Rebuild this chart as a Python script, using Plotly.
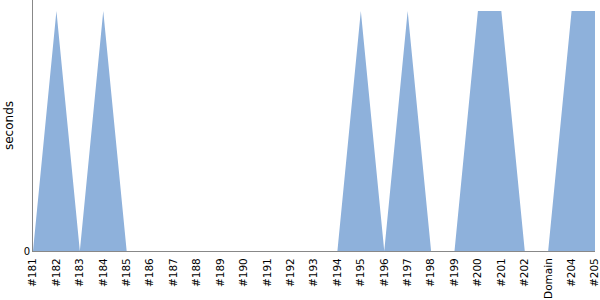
import plotly.graph_objects as go

categories = ["#181", "#182", "#183", "#184", "#185", "#186", "#187", "#188", "#189",
              "#190", "#191", "#192", "#193", "#194", "#195", "#196", "#197", "#198",
              "#199", "#200", "#201", "#202", "Domain", "#204", "#205"]
seconds = [0, 1, 0, 1, 0, 0, 0, 0, 0, 0, 0, 0, 0, 0, 1, 0, 1, 0, 0, 1, 1, 0, 0, 1, 1]

FONT = "DejaVu Sans"

fig = go.Figure()
fig.add_trace(go.Scatter(
    x=list(range(len(categories))), y=seconds, mode="lines",
    line=dict(width=0, color="#8eb1db"),
    fill="tozeroy", fillcolor="#8eb1db", hoverinfo="skip",
))

fig.update_layout(
    width=600, height=300,
    margin=dict(l=33, r=5, t=0, b=49),
    paper_bgcolor="white", plot_bgcolor="white",
    showlegend=False,
    font=dict(family=FONT, size=10, color="#000"),
)
fig.update_xaxes(
    range=[0, len(categories) - 1], automargin=False,
    tickmode="array", tickvals=list(range(len(categories))), ticktext=categories,
    tickangle=-90, showgrid=False, zeroline=False,
    showline=True, linecolor="#888", linewidth=1,
    ticks="", ticklabeloverflow="allow", ticklabelstandoff=2,
    tickfont=dict(size=10.5, family=FONT),
)
fig.update_yaxes(
    range=[0, 1.046], automargin=False,
    tickmode="array", tickvals=[0], ticktext=["0"],
    showgrid=False, zeroline=False,
    showline=True, linecolor="#888", linewidth=1,
    ticks="", tickfont=dict(size=10, family=FONT),
    title=dict(text="seconds", font=dict(size=12, family=FONT), standoff=7),
)
fig.write_html("out.html")
